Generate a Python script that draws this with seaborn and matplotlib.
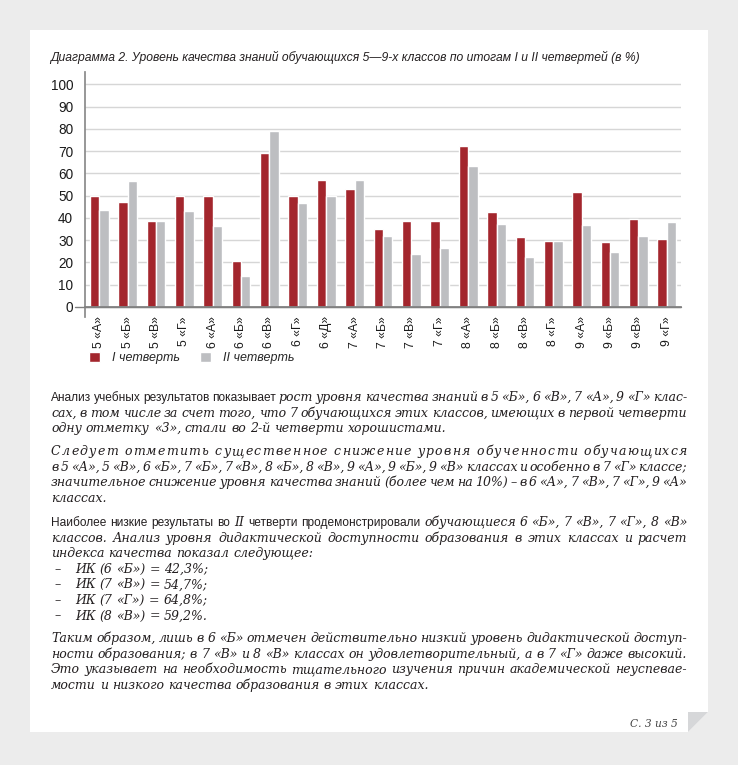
import numpy as np
import pandas as pd
import seaborn as sns
import matplotlib.pyplot as plt
from matplotlib.patches import Polygon
from matplotlib.font_manager import FontProperties

# chart data
classes = ['5 «А»', '5 «Б»', '5 «В»', '5 «Г»', '6 «А»', '6 «Б»', '6 «В»', '6 «Г»', '6 «Д»',
           '7 «А»', '7 «Б»', '7 «В»', '7 «Г»', '8 «А»', '8 «Б»', '8 «В»', '8 «Г»',
           '9 «А»', '9 «Б»', '9 «В»', '9 «Г»']
q1 = [50, 47, 38.5, 50, 50, 20.5, 69, 50, 57, 52.8, 34.8, 38.5, 38.8, 72.1, 42.7, 31.6, 29.8,
      51.6, 29.1, 39.6, 30.3]
q2 = [43.5, 56.5, 38.5, 43, 36.4, 14, 79.2, 46.5, 50, 57, 32, 23.8, 26.7, 63.1, 37.3, 22.3, 29.8,
      36.7, 24.7, 31.8, 38.2]
quarters = ['I четверть', 'II четверть']
yticks = list(range(0, 101, 10))

title = 'Диаграмма 2. Уровень качества знаний обучающихся 5—9-х классов по итогам I и II четвертей (в %)'
page_label = 'С. 3 из 5'

# page text: (chunks, mode)  s = sans, i = serif italic; j = justify, l = left, sp = letter-spaced
para1 = [
    ([('s', 'Анализ учебных результатов показывает'),
      ('i', 'рост уровня качества знаний в 5 «Б», 6 «В», 7 «А», 9 «Г» клас-')], 'j'),
    ([('i', 'сах, в том числе за счет того, что 7 обучающихся этих классов, имеющих в первой четверти')], 'j'),
    ([('i', 'одну отметку «3», стали во 2-й четверти хорошистами.')], 'l'),
]
para2 = [
    ([('i', 'Следует отметить существенное снижение уровня обученности обучающихся')], 'sp'),
    ([('i', 'в 5 «А», 5 «В», 6 «Б», 7 «Б», 7 «В», 8 «Б», 8 «В», 9 «А», 9 «Б», 9 «В» классах и особенно в 7 «Г» классе;')], 'j'),
    ([('i', 'значительное снижение уровня качества знаний (более чем на 10%) – в 6 «А», 7 «В», 7 «Г», 9 «А»')], 'j'),
    ([('i', 'классах.')], 'l'),
]
para3 = [
    ([('s', 'Наиболее низкие результаты во'), ('i', 'II'), ('s', 'четверти продемонстрировали'),
      ('i', 'обучающиеся 6 «Б», 7 «В», 7 «Г», 8 «В»')], 'j'),
    ([('i', 'классов. Анализ уровня дидактической доступности образования в этих классах и расчет')], 'j'),
    ([('i', 'индекса качества показал следующее:')], 'l'),
]
ik_items = ['ИК (6 «Б») = 42,3%;', 'ИК (7 «В») = 54,7%;', 'ИК (7 «Г») = 64,8%;', 'ИК (8 «В») = 59,2%.']
para4 = [
    ([('i', 'Таким образом, лишь в 6 «Б» отмечен действительно низкий уровень дидактической доступ-')], 'j'),
    ([('i', 'ности образования; в 7 «В» и 8 «В» классах он удовлетворительный, а в 7 «Г» даже высокий.')], 'j'),
    ([('i', 'Это указывает на необходимость тщательного изучения причин академической неуспевае-')], 'j'),
    ([('i', 'мости и низкого качества образования в этих классах.')], 'l'),
]

W, H = 738, 765
red = '#a3262d'
grey = '#bdbec1'
ink = '#231f20'

sns.set_theme(style='white')
plt.rcParams['font.family'] = ['Liberation Sans', 'DejaVu Sans']

fig = plt.figure(figsize=(W / 100, H / 100), dpi=100)
fig.patch.set_facecolor('#ececec')
renderer = fig.canvas.get_renderer()


def fx(x):
    return x / W


def fy(y):
    return 1 - y / H


def width_of(s, fp):
    t = fig.text(0, 0, s, fontproperties=fp)
    w = t.get_window_extent(renderer).width
    t.remove()
    return w


def fit_size(s, family, style, target):
    fp = FontProperties(family=family, style=style, size=10)
    return 10 * target / width_of(s, fp)


# page sheet with folded corner
fig.add_artist(Polygon([(fx(30), fy(30)), (fx(708), fy(30)), (fx(708), fy(712)), (fx(688), fy(732)),
                        (fx(30), fy(732))], closed=True, transform=fig.transFigure,
                       facecolor='white', edgecolor='none', zorder=-10))
fig.add_artist(Polygon([(fx(688), fy(712)), (fx(708), fy(712)), (fx(688), fy(732))], closed=True,
                       transform=fig.transFigure, facecolor='#d6d7d9', edgecolor='none', zorder=-9))

# title
ts = fit_size(title, 'Liberation Sans', 'italic', 587)
fig.text(fx(50), fy(61), title, fontsize=ts, style='italic', family='Liberation Sans', color=ink, va='baseline')

# chart
ax = fig.add_axes([fx(85), fy(317), (681 - 85) / W, (317 - 72) / H])
ax.set_facecolor('none')
df = pd.DataFrame({
    'класс': classes * 2,
    'значение': q1 + q2,
    'четверть': [quarters[0]] * len(classes) + [quarters[1]] * len(classes),
})
sns.barplot(data=df, x='класс', y='значение', hue='четверть', palette=[red, grey],
            saturation=1, width=0.66, gap=0, ax=ax, legend=True)
ax.set_xlim(-0.5, len(classes) - 0.5)
ax.set_ylim(-4.5, 105.5)
ax.set_yticks(yticks)
ax.set_yticklabels([str(v) for v in yticks])
ax.yaxis.grid(True, color='#d6d6d6', lw=1)
ax.set_axisbelow(True)
ax.set_xlabel('')
ax.set_ylabel('')
for side in ['top', 'right']:
    ax.spines[side].set_visible(False)
ax.spines['left'].set_color('#8a8a8a')
ax.spines['bottom'].set_color('#808080')
ax.spines['bottom'].set_position(('data', 0))
ax.axhline(0, xmin=-0.016, xmax=1.0, color='#808080', lw=1, clip_on=False, zorder=3)
ax.tick_params(axis='y', length=0, pad=8.5, labelsize=9.8, labelcolor='#1a1a1a')
ax.set_xticks(range(len(classes)))
ax.set_xticklabels(classes, rotation=90)
ax.tick_params(axis='x', which='major', length=0, pad=6.5, labelsize=8.8, labelcolor='#1a1a1a')
ax.set_xticks(np.arange(-0.5, len(classes), 1), minor=True)
ax.tick_params(axis='x', which='minor', length=4, width=1, color='#808080', direction='out')

sns.move_legend(ax, 'center left', bbox_to_anchor=(fx(89), fy(358)), bbox_transform=fig.transFigure,
                ncol=2, frameon=False, title=None, borderpad=0, borderaxespad=0,
                handlelength=0.85, handleheight=0.85, handletextpad=1.0, columnspacing=1.6,
                prop={'family': 'Liberation Sans', 'style': 'italic', 'size': 9})

# body text
x0, x1 = 51, 687
serif_size = fit_size('одну отметку «3», стали во 2-й четверти хорошистами.', 'DejaVu Serif', 'italic', 396)
sans_size = fit_size('Анализ учебных результатов показывает', 'Liberation Sans', 'normal', 226)
fonts = {
    'i': FontProperties(family='DejaVu Serif', style='italic', size=serif_size),
    's': FontProperties(family='Liberation Sans', style='normal', size=sans_size),
}
space_w = {k: width_of('a a', fp) - width_of('aa', fp) for k, fp in fonts.items()}


def draw_line(chunks, y, mode, left=x0, right=x1):
    base = fy(y + 4)
    if mode == 'sp':
        st, s = chunks[0]
        fp = fonts[st]
        chars = list(s)
        ws = [space_w[st] if c == ' ' else width_of(c, fp) for c in chars]
        extra = (right - left - sum(ws)) / (len(chars) - 1)
        x = left
        for c, w in zip(chars, ws):
            if c != ' ':
                fig.text(fx(x), base, c, fontproperties=fp, color=ink, va='baseline')
            x += w + extra
        return
    words = [(w, st) for st, s in chunks for w in s.split()]
    ws = [width_of(w, fonts[st]) for w, st in words]
    x = left
    for k, ((w, st), wd) in enumerate(zip(words, ws)):
        fig.text(fx(x), base, w, fontproperties=fonts[st], color=ink, va='baseline')
        if mode == 'j':
            gap = (right - left - sum(ws)) / (len(words) - 1)
        else:
            gap = space_w[st]
        x += wd + gap


step = 15.6
for start, lines in [(397, para1), (451, para2), (522, para3), (638, para4)]:
    for k, (chunks, mode) in enumerate(lines):
        draw_line(chunks, start + k * step, mode)
for k, item in enumerate(ik_items):
    y = 522 + (3 + k) * step
    draw_line([('i', '–')], y, 'l', left=55)
    draw_line([('i', item)], y, 'l', left=75)

fig.text(fx(678), fy(727), page_label, fontproperties=FontProperties(family='DejaVu Serif', style='italic',
         size=serif_size * 0.85), color='#444444', ha='right', va='baseline')

fig.savefig('out.png', dpi=100)
